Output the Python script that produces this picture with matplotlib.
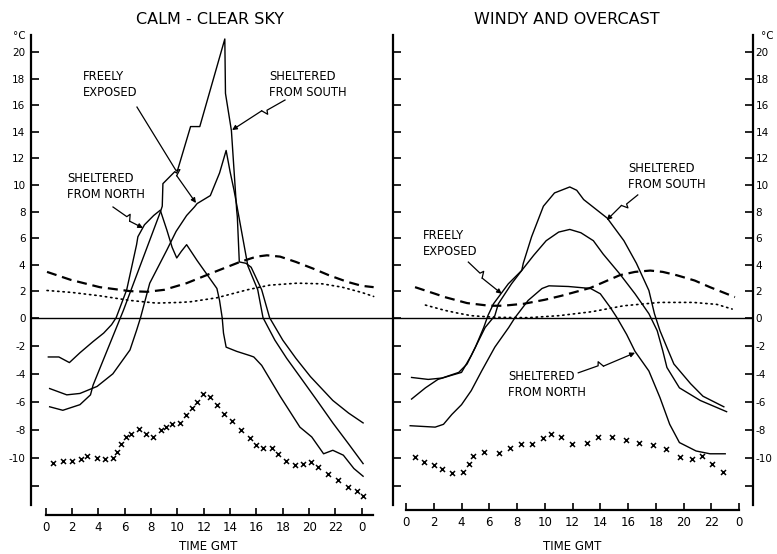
import numpy as np
import matplotlib
matplotlib.use("Agg")
import matplotlib.pyplot as plt
from matplotlib.ticker import FixedLocator, FixedFormatter

plt.rcParams['font.family'] = ['DejaVu Sans']

# ---------------- data (hour GMT, temperature degC) ----------------
# CALM - CLEAR SKY
calm_south_h = [0.3, 1.3, 2.6, 3.4, 3.6, 5.9, 8.7, 8.85, 8.9, 9.8, 9.95, 11.0, 11.7, 13.6, 13.65,
                14.1, 14.4, 14.5, 14.55, 14.7, 15.2, 15.6, 16.4, 17.0, 18.0, 19.0, 20.1, 21.0, 21.8, 23.0, 24.1]
calm_south_t = [-6.35, -6.6, -6.2, -5.5, -4.8, 0.55, 7.95, 8.4, 10.1, 11.0, 10.9, 14.4, 14.4, 21.0, 16.9,
                14.1, 9.6, 8.1, 7.6, 4.2, 4.1, 3.8, 2.1, 0.0, -1.6, -2.9, -4.2, -5.1, -5.9, -6.8, -7.5]

calm_free_h = [0.3, 1.6, 2.6, 3.9, 5.1, 6.4, 6.9, 7.2, 7.9, 9.2, 9.9, 10.7, 11.3, 11.5, 12.5, 13.2, 13.7,
               14.0, 14.3, 14.45, 15.35, 16.1, 16.5, 17.4, 18.3, 19.3, 20.6, 21.8, 23.0, 24.1]
calm_free_t = [-5.05, -5.5, -5.4, -4.9, -4.0, -2.3, -0.9, 0.0, 2.6, 5.1, 6.5, 7.7, 8.35, 8.6, 9.2, 10.9, 12.6,
               11.0, 9.6, 8.8, 3.9, 2.1, 0.0, -1.6, -2.9, -4.2, -5.9, -7.5, -9.0, -10.4]

calm_north_h = [0.2, 1.0, 1.8, 2.6, 3.6, 4.4, 5.0, 5.35, 6.15, 6.9, 7.0, 7.5, 8.2, 8.7, 9.2, 9.6, 9.95, 10.3,
                10.7, 11.5, 12.5, 13.0, 13.2, 13.4, 13.5, 13.7, 14.5, 15.5, 15.8, 16.4, 17.8, 19.3, 20.2,
                21.1, 21.8, 22.6, 23.4, 24.1]
calm_north_t = [-2.8, -2.8, -3.2, -2.5, -1.7, -1.1, -0.5, 0.0, 2.1, 5.5, 6.1, 7.0, 7.7, 8.1, 6.6, 5.3, 4.5, 5.0,
                5.5, 4.3, 2.9, 2.2, 1.3, 0.0, -1.1, -2.1, -2.4, -2.7, -2.8, -3.4, -5.6, -7.8, -8.5,
                -9.7, -9.45, -9.8, -10.75, -11.3]

calm_dash_h = [0.1, 1.9, 4.1, 6.4, 7.7, 9.0, 10.7, 12.7, 14.75, 16.0, 16.8, 17.8, 19.0, 20.3, 21.5, 22.9, 24.0, 24.9]
calm_dash_t = [3.45, 2.85, 2.3, 2.0, 1.95, 2.1, 2.6, 3.4, 4.2, 4.6, 4.7, 4.6, 4.2, 3.7, 3.2, 2.7, 2.4, 2.3]

calm_dot_h = [0.1, 2.0, 4.1, 6.4, 8.4, 10.2, 11.0, 13.0, 15.3, 17.0, 19.1, 21.0, 22.5, 24.0, 24.9]
calm_dot_t = [2.05, 1.9, 1.65, 1.3, 1.1, 1.15, 1.2, 1.5, 2.1, 2.45, 2.6, 2.55, 2.3, 1.9, 1.6]

calm_x_h = [0.58, 1.29, 1.97, 2.68, 3.16, 3.87, 4.5, 5.09, 5.39, 5.72, 6.07, 6.48, 7.08, 7.62, 8.17, 8.75,
            9.11, 9.56, 10.2, 10.65, 11.09, 11.51, 11.97, 12.48, 13.03, 13.54, 14.12, 14.8, 15.51, 15.97,
            16.52, 17.16, 17.66, 18.25, 18.93, 19.56, 20.14, 20.7, 21.41, 22.17, 22.93, 23.61, 24.12]
calm_x_t = [-10.36, -10.24, -10.24, -10.07, -9.86, -10.0, -10.09, -9.97, -9.57, -9.02, -8.5, -8.26, -7.9,
            -8.26, -8.5, -8.02, -7.78, -7.59, -7.5, -6.95, -6.47, -6.0, -5.47, -5.64, -6.24, -6.83, -7.36,
            -7.97, -8.57, -9.09, -9.26, -9.28, -9.69, -10.21, -10.52, -10.4, -10.28, -10.64, -11.12,
            -11.59, -12.07, -12.38, -12.71]

# WINDY AND OVERCAST
windy_south_h = [0.4, 1.6, 2.6, 3.8, 4.4, 5.0, 5.6, 5.9, 6.3, 7.37, 8.34, 8.45, 9.05, 9.9, 10.7, 11.8, 12.3,
                 12.8, 14.5, 15.7, 16.6, 17.5, 17.9, 18.3, 18.9, 19.3, 20.5, 21.4, 22.9]
windy_south_t = [-4.26, -4.4, -4.3, -3.9, -3.3, -2.1, -0.7, 0.15, 1.04, 2.55, 3.56, 4.1, 6.1, 8.4, 9.4, 9.85, 9.6,
                 8.9, 7.5, 5.8, 4.1, 2.05, 0.3, -0.93, -2.36, -3.3, -4.7, -5.6, -6.35]

windy_free_h = [0.4, 1.4, 2.3, 3.3, 4.0, 4.7, 5.7, 6.4, 6.65, 7.6, 8.34, 9.2, 10.1, 11.0, 11.8, 12.6, 13.5,
                14.2, 15.4, 16.5, 17.5, 18.1, 18.5, 18.8, 19.7, 21.2, 23.1]
windy_free_t = [-5.8, -5.0, -4.4, -4.1, -3.9, -2.7, -0.7, 0.15, 1.04, 2.55, 3.56, 4.7, 5.8, 6.45, 6.65, 6.4, 5.8,
                4.8, 3.3, 1.8, 0.3, -0.93, -2.36, -3.55, -5.0, -5.9, -6.7]

windy_north_h = [0.3, 2.1, 2.7, 3.3, 4.0, 4.7, 5.45, 6.4, 7.4, 7.85, 8.8, 9.8, 10.3, 11.7, 13.3, 14.0, 14.7,
                 15.2, 15.9, 16.5, 17.5, 18.3, 19.0, 19.7, 20.9, 21.9, 23.0]
windy_north_t = [-7.7, -7.8, -7.6, -6.9, -6.2, -5.2, -3.8, -2.1, -0.7, 0.0, 1.3, 2.2, 2.4, 2.35, 2.2, 1.8, 0.8,
                 0.0, -1.2, -2.4, -3.8, -5.7, -7.6, -8.9, -9.5, -9.7, -9.7]

windy_dash_h = [0.65, 2.1, 2.8, 4.4, 6.0, 7.0, 8.5, 10.0, 11.2, 13.3, 15.4, 16.5, 17.6, 18.5, 19.5, 20.8, 21.9, 23.7]
windy_dash_t = [2.3, 1.8, 1.55, 1.1, 0.9, 0.9, 1.05, 1.35, 1.65, 2.25, 3.2, 3.45, 3.55, 3.45, 3.2, 2.8, 2.3, 1.55]

windy_dot_h = [1.4, 2.8, 3.7, 4.7, 6.4, 8.8, 11.0, 13.4, 15.7, 18.3, 20.7, 22.4, 23.5]
windy_dot_t = [0.95, 0.55, 0.35, 0.15, 0.03, 0.0, 0.15, 0.45, 0.9, 1.15, 1.15, 1.0, 0.65]

windy_x_h = [0.65, 1.32, 2.04, 2.62, 3.29, 4.08, 4.54, 4.85, 5.64, 6.7, 7.49, 8.26, 9.1, 9.89, 10.45, 11.17,
             11.98, 13.07, 13.86, 14.87, 15.85, 16.81, 17.82, 18.73, 19.74, 20.58, 21.35, 22.07, 22.86]
windy_x_t = [-9.93, -10.3, -10.5, -10.8, -11.05, -11.0, -10.4, -9.86, -9.55, -9.62, -9.26, -8.98, -9.02, -8.6,
             -8.26, -8.5, -9.02, -8.9, -8.48, -8.48, -8.71, -8.95, -9.07, -9.33, -9.93, -10.05, -9.86,
             -10.4, -11.0]

x_ticks = [0, 2, 4, 6, 8, 10, 12, 14, 16, 18, 20, 22, 24]
x_labels = ['0', '2', '4', '6', '8', '10', '12', '14', '16', '18', '20', '22', '0']
y_ticks = [-12, -10, -8, -6, -4, -2, 0, 2, 4, 6, 8, 10, 12, 14, 16, 18, 20]
y_labels = ['', '-10', '-8', '-6', '-4', '-2', '0', '2', '4', '6', '8', '10', '12', '14', '16', '18', '20']

# ---------------- figure ----------------
W, H = 777, 554
fig = plt.figure(figsize=(W / 100, H / 100), dpi=100)

NEG = 14.03 / 13.27


def fwd(v):
    v = np.asarray(v, dtype=float)
    return np.where(v >= 0, v, v * NEG)


def inv(u):
    u = np.asarray(u, dtype=float)
    return np.where(u >= 0, u, u / NEG)


def px_axes(x0, x1, y0, y1):
    return fig.add_axes([x0 / W, 1 - y1 / H, (x1 - x0) / W, (y1 - y0) / H])


axL = px_axes(31, 393, 35, 505)
axR = px_axes(393, 752.7, 35, 505)

for ax in (axL, axR):
    ax.set_yscale('function', functions=(fwd, inv))
    ax.set_ylim(-13.35, 21.3)
    ax.patch.set_visible(False)
    ax.spines['top'].set_visible(False)
    ax.yaxis.set_major_locator(FixedLocator(y_ticks))
    ax.yaxis.set_major_formatter(FixedFormatter(y_labels))
    ax.yaxis.set_minor_locator(FixedLocator([]))
    ax.xaxis.set_major_locator(FixedLocator(x_ticks))
    ax.xaxis.set_major_formatter(FixedFormatter(x_labels))
    ax.tick_params(axis='y', direction='in', length=6, width=1.2, labelsize=7.5)
    ax.tick_params(axis='x', direction='in', length=5, width=1.2, labelsize=8.5, pad=4)
    ax.spines['bottom'].set_linewidth(1.6)
    ax.axhline(0, color='black', lw=1.0)

axL.set_xlim(-1.116, 26.37)
axR.set_xlim(-0.937, 24.98)

axL.spines['right'].set_visible(False)
axL.spines['left'].set_linewidth(1.6)
axL.spines['bottom'].set_position(('outward', 7.2))
axL.spines['bottom'].set_bounds(0, 24.87)
axL.tick_params(axis='y', pad=4)

axR.spines['left'].set_linewidth(1.6)
axR.spines['right'].set_linewidth(1.6)
axR.spines['bottom'].set_position(('outward', 3.6))
axR.spines['bottom'].set_bounds(0, 24)
axR.tick_params(axis='y', left=True, right=True, labelleft=False, labelright=True, pad=2)

solid = dict(color='black', lw=1.0, solid_joinstyle='round')
dash = dict(color='black', lw=1.6, dashes=(4.5, 2.6))
dot = dict(color='black', lw=1.2, linestyle=(0, (0.8, 2.4)), dash_capstyle='round')
cross = dict(ls='none', marker='x', color='black', ms=3.6, mew=1.1)

axL.plot(calm_south_h, calm_south_t, **solid)
axL.plot(calm_free_h, calm_free_t, **solid)
axL.plot(calm_north_h, calm_north_t, **solid)
axL.plot(calm_dash_h, calm_dash_t, **dash)
axL.plot(calm_dot_h, calm_dot_t, **dot)
axL.plot(calm_x_h, calm_x_t, **cross)

axR.plot(windy_south_h, windy_south_t, **solid)
axR.plot(windy_free_h, windy_free_t, **solid)
axR.plot(windy_north_h, windy_north_t, **solid)
axR.plot(windy_dash_h, windy_dash_t, **dash)
axR.plot(windy_dot_h, windy_dot_t, **dot)
axR.plot(windy_x_h, windy_x_t, **cross)

# titles and labels
fig.text(210 / W, 1 - 20 / H, 'CALM - CLEAR SKY', ha='center', va='center', fontsize=11.5)
fig.text(567 / W, 1 - 20 / H, 'WINDY AND OVERCAST', ha='center', va='center', fontsize=11.5)
fig.text(208 / W, 1 - 547 / H, 'TIME GMT', ha='center', va='center', fontsize=8.5)
fig.text(572 / W, 1 - 547 / H, 'TIME GMT', ha='center', va='center', fontsize=8.5)
fig.text(19 / W, 1 - 36 / H, '°C', ha='center', va='center', fontsize=7.5)
fig.text(767 / W, 1 - 36 / H, '°C', ha='center', va='center', fontsize=7.5)

lab = dict(ha='left', va='center', fontsize=8.3, linespacing=1.3)
axL.text(2.83, 17.6, 'FREELY\nEXPOSED', **lab)
axL.text(16.95, 17.6, 'SHELTERED\nFROM SOUTH', **lab)
axL.text(1.6, 9.85, 'SHELTERED\nFROM NORTH', **lab)
axR.text(16.0, 10.65, 'SHELTERED\nFROM SOUTH', **lab)
axR.text(1.22, 5.57, 'FREELY\nEXPOSED', **lab)
axR.text(7.35, -4.75, 'SHELTERED\nFROM NORTH', **lab)


def zigzag_arrow(ax, start, end, frac, s=3.5):
    t = ax.transData
    p0 = np.array(t.transform(start), dtype=float)
    p1 = np.array(t.transform(end), dtype=float)
    d = p1 - p0
    L = np.hypot(d[0], d[1])
    u = d / L
    n = np.array([-u[1], u[0]])
    m = p0 + u * L * frac
    a = m + n * s * 1.1 + u * s * 0.4
    b = m - n * s * 0.6 + u * s * 1.4
    pts = np.array([p0, m, a, b])
    dpts = t.inverted().transform(pts)
    ax.plot(dpts[:, 0], dpts[:, 1], color='black', lw=0.9, clip_on=False)
    ax.annotate('', xy=end, xytext=tuple(dpts[-1]), xycoords='data', textcoords='data',
                arrowprops=dict(arrowstyle='-|>', color='black', lw=0.9,
                                mutation_scale=7, shrinkA=0, shrinkB=0))


zigzag_arrow(axL, (6.93, 15.87), (11.41, 8.64), 0.66)
zigzag_arrow(axL, (18.17, 16.4), (14.15, 14.14), 0.34)
zigzag_arrow(axL, (5.11, 8.34), (7.39, 6.76), 0.46)
zigzag_arrow(axR, (16.7, 9.25), (14.46, 7.35), 0.36)
zigzag_arrow(axR, (4.49, 4.19), (6.9, 1.8), 0.35)
zigzag_arrow(axR, (12.41, -3.93), (16.5, -2.5), 0.35)

fig.savefig('out.png', dpi=100)
